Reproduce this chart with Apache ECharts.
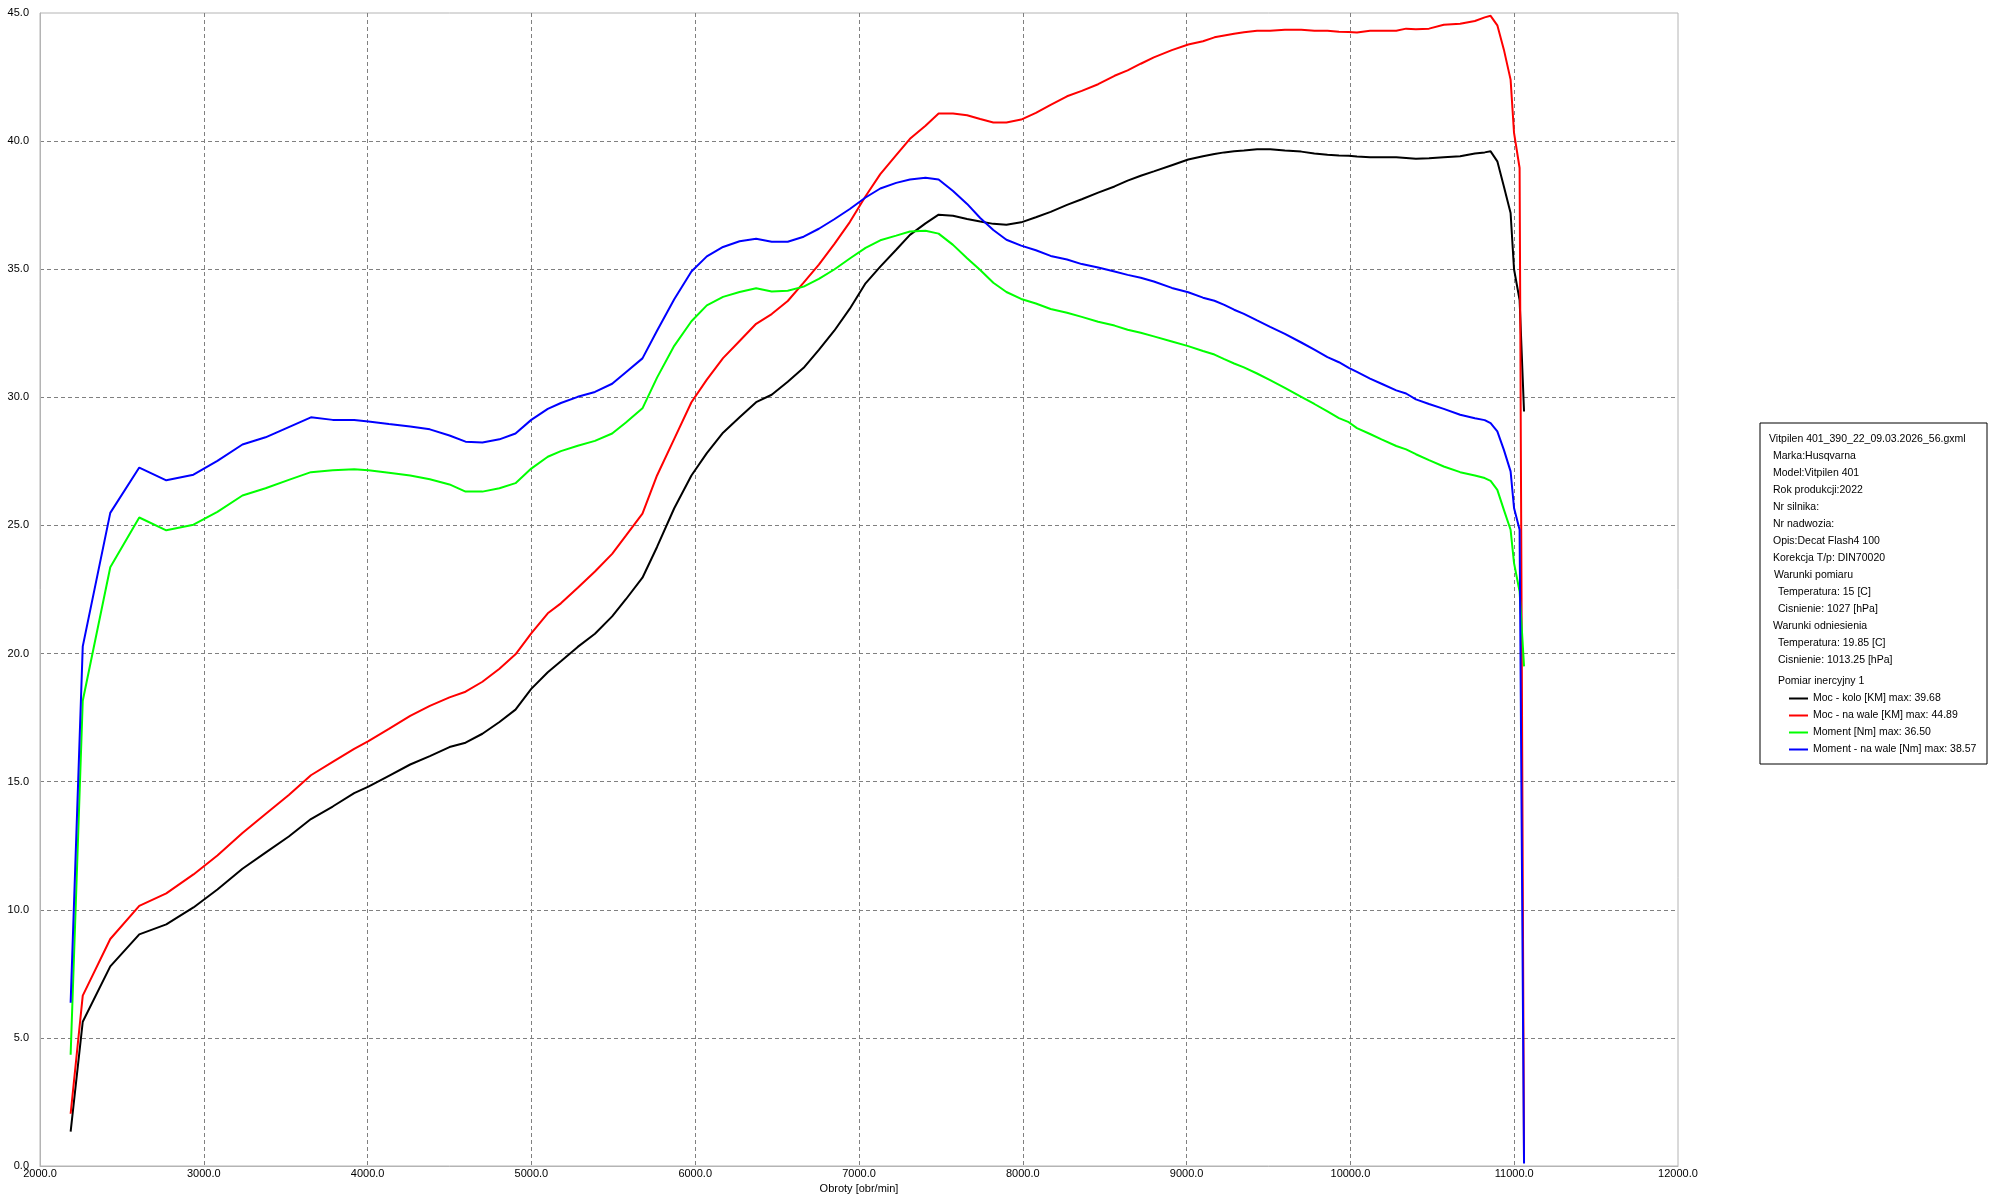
<!DOCTYPE html>
<html>
<head>
<meta charset="utf-8">
<script src="https://cdn.jsdelivr.net/npm/echarts/dist/echarts.min.js"></script>
<style>
  html, body { margin: 0; padding: 0; background: #ffffff; }
  #chart { width: 1994px; height: 1201px; }
</style>
</head>
<body>
<div id="chart"></div>
<script>
// ---------------- DATA ----------------
const rpm = [
  2187, 2261, 2429, 2606, 2771, 2937, 3083, 3236, 3377, 3519,
  3654, 3787, 3918, 4005, 4130, 4260, 4380, 4500, 4598, 4701,
  4805, 4903, 4999, 5100, 5180, 5283, 5388, 5493, 5577, 5678,
  5767, 5872, 5977, 6071, 6170, 6271, 6372, 6467, 6565, 6662,
  6755, 6849, 6944, 7040, 7130, 7227, 7311, 7406, 7486, 7574,
  7660, 7740, 7820, 7900, 7990, 8080, 8170, 8270, 8360, 8460,
  8560, 8640, 8720, 8800, 8910, 9010, 9100, 9170, 9230, 9290,
  9350, 9430, 9510, 9600, 9700, 9780, 9860, 9930, 9990, 10040,
  10120, 10190, 10280, 10340, 10400, 10480, 10570, 10670, 10760, 10820,
  10856, 10897, 10937, 10978, 10999, 11033, 11060
];

// Moc - kolo [KM]
const mocKolo = [
  1.34, 5.63, 7.79, 9.04, 9.43, 10.09, 10.79, 11.60, 12.23, 12.86,
  13.54, 14.03, 14.55, 14.81, 15.23, 15.67, 16.00, 16.35, 16.52, 16.87,
  17.33, 17.81, 18.62, 19.27, 19.70, 20.26, 20.77, 21.45, 22.12, 22.96,
  24.16, 25.67, 26.95, 27.82, 28.62, 29.22, 29.81, 30.10, 30.61, 31.15,
  31.85, 32.60, 33.46, 34.45, 35.10, 35.76, 36.34, 36.79, 37.13, 37.09,
  36.96, 36.86, 36.77, 36.74, 36.83, 37.03, 37.24, 37.51, 37.73, 37.99,
  38.23, 38.46, 38.65, 38.82, 39.06, 39.28, 39.41, 39.50, 39.56, 39.60,
  39.63, 39.68, 39.68, 39.63, 39.59, 39.52, 39.47, 39.44, 39.43, 39.40,
  39.37, 39.37, 39.37, 39.34, 39.31, 39.33, 39.37, 39.41, 39.52, 39.56,
  39.60, 39.21, 38.23, 37.19, 35.00, 33.80, 29.45
];

// Moc - na wale [KM]
const mocWale = [
  2.04, 6.65, 8.86, 10.15, 10.64, 11.38, 12.12, 13.00, 13.74, 14.48,
  15.25, 15.77, 16.28, 16.58, 17.06, 17.57, 17.96, 18.29, 18.51, 18.90,
  19.41, 19.97, 20.79, 21.57, 21.96, 22.57, 23.20, 23.89, 24.60, 25.46,
  26.95, 28.38, 29.81, 30.69, 31.53, 32.20, 32.87, 33.25, 33.76, 34.48,
  35.18, 35.98, 36.84, 37.85, 38.71, 39.45, 40.09, 40.60, 41.08, 41.08,
  41.01, 40.86, 40.73, 40.73, 40.84, 41.10, 41.41, 41.75, 41.96, 42.22,
  42.55, 42.76, 43.02, 43.27, 43.55, 43.77, 43.90, 44.05, 44.12, 44.19,
  44.25, 44.31, 44.31, 44.35, 44.35, 44.31, 44.31, 44.27, 44.26, 44.24,
  44.31, 44.31, 44.31, 44.39, 44.37, 44.39, 44.54, 44.58, 44.69, 44.83,
  44.89, 44.52, 43.57, 42.40, 40.32, 38.95, 0.20
];

// Moment [Nm]
const moment = [
  4.34, 18.16, 23.37, 25.31, 24.81, 25.03, 25.53, 26.17, 26.45, 26.78,
  27.08, 27.15, 27.19, 27.15, 27.06, 26.95, 26.80, 26.60, 26.32, 26.32,
  26.45, 26.65, 27.22, 27.68, 27.90, 28.11, 28.30, 28.59, 29.02, 29.57,
  30.77, 32.01, 32.97, 33.59, 33.92, 34.11, 34.26, 34.13, 34.16, 34.32,
  34.62, 34.99, 35.42, 35.83, 36.13, 36.31, 36.47, 36.50, 36.39, 35.95,
  35.43, 34.97, 34.47, 34.11, 33.84, 33.66, 33.45, 33.30, 33.14, 32.95,
  32.80, 32.64, 32.52, 32.38, 32.18, 32.00, 31.81, 31.67, 31.49, 31.32,
  31.17, 30.93, 30.67, 30.37, 30.02, 29.74, 29.45, 29.19, 29.03, 28.80,
  28.57, 28.36, 28.10, 27.97, 27.78, 27.55, 27.30, 27.08, 26.95, 26.85,
  26.74, 26.39, 25.61, 24.83, 23.53, 22.42, 19.50
];

// Moment - na wale [Nm]
const momentWale = [
  6.37, 20.28, 25.49, 27.26, 26.76, 26.98, 27.52, 28.16, 28.44, 28.84,
  29.22, 29.12, 29.12, 29.06, 28.96, 28.86, 28.75, 28.51, 28.27, 28.24,
  28.36, 28.59, 29.12, 29.55, 29.78, 30.02, 30.21, 30.53, 30.98, 31.52,
  32.60, 33.83, 34.91, 35.50, 35.87, 36.09, 36.19, 36.07, 36.07, 36.27,
  36.58, 36.95, 37.35, 37.80, 38.15, 38.37, 38.50, 38.57, 38.50, 38.05,
  37.55, 37.00, 36.53, 36.15, 35.92, 35.74, 35.52, 35.38, 35.20, 35.07,
  34.91, 34.78, 34.67, 34.52, 34.27, 34.10, 33.89, 33.77, 33.61, 33.42,
  33.26, 33.00, 32.75, 32.48, 32.14, 31.86, 31.57, 31.37, 31.15, 30.99,
  30.73, 30.53, 30.27, 30.15, 29.92, 29.74, 29.55, 29.32, 29.18, 29.11,
  28.99, 28.67, 27.95, 27.11, 25.68, 24.83, 0.10
];

const seriesNames = ['Moc - kolo [KM]', 'Moc - na wale [KM]', 'Moment [Nm]', 'Moment - na wale [Nm]'];

const xAxisName = 'Obroty [obr/min]';

const infoLines = [
  'Vitpilen 401_390_22_09.03.2026_56.gxml',
  'Marka:Husqvarna',
  'Model:Vitpilen 401',
  'Rok produkcji:2022',
  'Nr silnika:',
  'Nr nadwozia:',
  'Opis:Decat Flash4 100',
  'Korekcja T/p: DIN70020',
  'Warunki pomiaru',
  'Temperatura: 15 [C]',
  'Cisnienie: 1027 [hPa]',
  'Warunki odniesienia',
  'Temperatura: 19.85 [C]',
  'Cisnienie: 1013.25 [hPa]',
  'Pomiar inercyjny 1'
];

// ---------------- BUILD ----------------
const FONT = '"Liberation Sans", Arial, sans-serif';
const seriesColors = ['#000000', '#ff0000', '#00ff00', '#0000ff'];
const seriesValues = [mocKolo, mocWale, moment, momentWale];
const maxByName = {};
seriesNames.forEach((n, i) => { maxByName[n] = Math.max(...seriesValues[i]).toFixed(2); });

const indentX = [1769, 1773, 1773, 1773, 1773, 1773, 1773, 1773, 1774, 1778, 1778, 1773, 1778, 1778, 1778];
const infoGraphics = infoLines.map((t, i) => ({
  type: 'text',
  z: 5,
  style: {
    text: t,
    x: indentX[i],
    y: (i < 14 ? 439 + 17 * i : 681),
    fill: '#000000',
    fontSize: 10.5,
    fontFamily: FONT,
    align: 'left',
    verticalAlign: 'middle'
  }
}));

const chart = echarts.init(document.getElementById('chart'), null, { renderer: 'canvas' });

const option = {
  animation: false,
  backgroundColor: '#ffffff',
  grid: {
    left: 40, top: 13, right: 316, bottom: 35,
    show: true, borderColor: '#b4b4b4', borderWidth: 1,
    backgroundColor: 'transparent'
  },
  xAxis: {
    type: 'value',
    min: 2000, max: 12000, interval: 1000,
    name: xAxisName,
    nameLocation: 'middle',
    nameGap: 15,
    nameTextStyle: { color: '#000000', fontSize: 11, fontFamily: FONT },
    axisLine: { show: true, onZero: false, lineStyle: { color: '#b4b4b4', width: 1 } },
    axisTick: { show: false },
    axisLabel: {
      color: '#000000', fontSize: 11, fontFamily: FONT, margin: 2,
      formatter: v => v.toFixed(1), showMinLabel: true, showMaxLabel: true, hideOverlap: false
    },
    splitLine: {
      show: true, showMinLine: false, showMaxLine: false,
      lineStyle: { color: '#808080', width: 1, type: [4, 3] }
    }
  },
  yAxis: {
    type: 'value',
    min: 0, max: 45, interval: 5,
    axisLine: { show: true, lineStyle: { color: '#b4b4b4', width: 1 } },
    axisTick: { show: false },
    axisLabel: {
      color: '#000000', fontSize: 11, fontFamily: FONT, margin: 11,
      formatter: v => v.toFixed(1), showMinLabel: true, showMaxLabel: true
    },
    splitLine: {
      show: true, showMinLine: false, showMaxLine: false,
      lineStyle: { color: '#808080', width: 1, type: [4, 3] }
    }
  },
  legend: {
    show: true,
    orient: 'vertical',
    left: 1784, top: 685,
    itemWidth: 19, itemHeight: 2, itemGap: 0,
    icon: 'rect',
    z: 10,
    selectedMode: false,
    data: seriesNames,
    formatter: name => name + ' max: ' + maxByName[name],
    textStyle: { color: '#000000', fontSize: 10.5, fontFamily: FONT, lineHeight: 17 }
  },
  graphic: [
    {
      type: 'rect',
      z: 1,
      shape: { x: 1760, y: 423, width: 227, height: 341 },
      style: { fill: '#ffffff', stroke: '#000000', lineWidth: 1 }
    }
  ].concat(infoGraphics),
  series: seriesNames.map((n, i) => ({
    type: 'line',
    name: n,
    data: rpm.map((r, j) => [r, seriesValues[i][j]]),
    showSymbol: false,
    symbol: 'none',
    smooth: false,
    silent: true,
    lineStyle: { color: seriesColors[i], width: 2 },
    itemStyle: { color: seriesColors[i] },
    z: 2 + i
  }))
};

chart.setOption(option);
</script>
</body>
</html>
